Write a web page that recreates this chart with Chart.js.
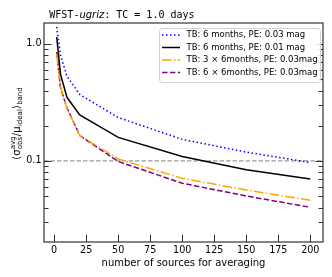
<!DOCTYPE html>
<html><head><meta charset="utf-8">
<script src="https://cdn.jsdelivr.net/npm/chart.js@4/dist/chart.umd.min.js"></script>
<style>html,body{margin:0;padding:0;background:#fff;}#wrap{width:332px;height:277px;}</style>
</head><body><div id="wrap"><canvas id="c" width="332" height="277"></canvas></div>
<script>
// ---- data ----
const nSources = [2, 5, 10, 20, 50, 100, 150, 200];
const tb6_pe003   = [1.40, 0.80, 0.53, 0.37, 0.235, 0.153, 0.119, 0.097];
const tb6_pe001   = [1.15, 0.55, 0.35, 0.247, 0.159, 0.109, 0.084, 0.070];
const tb3x6_pe003 = [0.82, 0.43, 0.28, 0.165, 0.104, 0.071, 0.0565, 0.0461];
const tb6x6_pe003 = [0.85, 0.42, 0.285, 0.165, 0.099, 0.0645, 0.0502, 0.0402];
const seriesLabels = [
  'TB: 6 months, PE: 0.03 mag',
  'TB: 6 months, PE: 0.01 mag',
  'TB: 3 × 6months, PE: 0.03mag',
  'TB: 6 × 6months, PE: 0.03mag'
];
const xTicks = [0, 25, 50, 75, 100, 125, 150, 175, 200];
const yMajorTicks = [0.1, 1.0];
const yMinorTicks = [0.03, 0.04, 0.05, 0.06, 0.07, 0.08, 0.09, 0.2, 0.3, 0.4, 0.5, 0.6, 0.7, 0.8, 0.9];
const refLevel = 0.1;
const titleParts = ['WFST-', 'ugriz', ': TC = 1.0 days'];
const xTitle = 'number of sources for averaging';

const toPts = arr => nSources.map((x, i) => ({x: x, y: arr[i]}));
const styles = [
  {color: '#0000ff', dash: [1.5, 2.5]},
  {color: '#000000', dash: []},
  {color: '#ffa500', dash: [9.6, 2.4, 1.5, 2.4]},
  {color: '#800080', dash: [5.5, 2.4]}
];
const series = [tb6_pe003, tb6_pe001, tb3x6_pe003, tb6x6_pe003];

Chart.defaults.color = '#000';
Chart.defaults.font.family = 'DejaVu Sans';

const SANS = 'DejaVu Sans';
const decor = {
  id: 'decor',
  beforeDatasetsDraw(chart) {
    const {ctx, chartArea: a, scales: {y}} = chart;
    const py = y.getPixelForValue(refLevel);
    ctx.save();
    ctx.strokeStyle = '#9a9a9a'; ctx.lineWidth = 1.3; ctx.setLineDash([4.5, 2]);
    ctx.beginPath(); ctx.moveTo(a.left, py); ctx.lineTo(a.right, py); ctx.stroke();
    ctx.restore();
  },
  afterDraw(chart) {
    const {ctx, chartArea: a, scales: {x, y}} = chart;
    ctx.save();
    // frame
    ctx.strokeStyle = '#333'; ctx.lineWidth = 1.2; ctx.setLineDash([]);
    ctx.strokeRect(a.left, a.top, a.right - a.left, a.bottom - a.top);
    // ticks
    ctx.lineWidth = 1;
    ctx.beginPath();
    xTicks.forEach(v => { const px = Math.round(x.getPixelForValue(v)) + 0.5; ctx.moveTo(px, a.bottom); ctx.lineTo(px, a.bottom - 7.5); });
    yMajorTicks.forEach(v => { const py = Math.round(y.getPixelForValue(v)) + 0.5;
      ctx.moveTo(a.left, py); ctx.lineTo(a.left + 7.5, py); ctx.moveTo(a.right, py); ctx.lineTo(a.right - 7.5, py); });
    yMinorTicks.forEach(v => { const py = Math.round(y.getPixelForValue(v)) + 0.5;
      ctx.moveTo(a.left, py); ctx.lineTo(a.left + 4.5, py); ctx.moveTo(a.right, py); ctx.lineTo(a.right - 4.5, py); });
    ctx.stroke();

    // legend
    const lx = 159, ly = 28, lw = 161, lh = 54, r = 3;
    ctx.beginPath();
    ctx.roundRect(lx + 0.5, ly + 0.5, lw, lh, r);
    ctx.fillStyle = 'rgba(255,255,255,0.85)'; ctx.fill();
    ctx.strokeStyle = '#d0d0d0'; ctx.lineWidth = 1; ctx.stroke();
    ctx.font = '8.5px "' + SANS + '"';
    ctx.textBaseline = 'middle'; ctx.textAlign = 'left';
    chart.data.datasets.forEach((ds, i) => {
      const cy = 35 + i * 12.5;
      ctx.strokeStyle = ds.borderColor; ctx.lineWidth = 1.5; ctx.setLineDash(ds.borderDash || []);
      ctx.beginPath(); ctx.moveTo(162, cy); ctx.lineTo(180, cy); ctx.stroke();
      ctx.setLineDash([]);
      ctx.fillStyle = '#000'; ctx.fillText(ds.label, 186.5, cy);
    });

    // title
    ctx.textBaseline = 'alphabetic'; ctx.fillStyle = '#000';
    let tx = 49.3; const ty = 17.5;
    ctx.font = '10px "DejaVu Sans Mono"'; ctx.fillText(titleParts[0], tx, ty); tx += ctx.measureText(titleParts[0]).width;
    ctx.font = 'italic 10px "' + SANS + '"'; ctx.fillText(titleParts[1], tx, ty); tx += ctx.measureText(titleParts[1]).width;
    ctx.font = '10px "DejaVu Sans Mono"'; ctx.fillText(titleParts[2], tx, ty);

    // x title
    ctx.font = '10px "' + SANS + '"'; ctx.textAlign = 'center';
    ctx.textBaseline = 'middle';
    ctx.fillText(xTitle, (a.left + a.right) / 2, 263);

    // y title (math-like)
    const big = '10px "' + SANS + '"', small = '7px "' + SANS + '"';
    const pieces = [
      {t: '⟨', f: big, dy: 0},
      {t: 'σ', f: big, dy: 0},
      {stack: true, sup: 'avg', sub: 'obs', f: small},
      {t: '/', f: big, dy: 0},
      {t: 'μ', f: big, dy: 0},
      {t: 'ideal', f: small, dy: 2.8},
      {t: '⟩', f: big, dy: 0},
      {t: 'band', f: small, dy: 2.8}
    ];
    let total = 0;
    pieces.forEach(p => { ctx.font = p.f; p.w = p.stack ? Math.max(ctx.measureText(p.sup).width, ctx.measureText(p.sub).width) : ctx.measureText(p.t).width; total += p.w + 0.2; });
    ctx.save();
    ctx.translate(19.5, 123.5); ctx.rotate(-Math.PI / 2);
    ctx.textAlign = 'left'; ctx.textBaseline = 'alphabetic';
    let px = -total / 2;
    pieces.forEach(p => {
      ctx.font = p.f;
      if (p.stack) { ctx.fillText(p.sup, px, -4.5); ctx.fillText(p.sub, px, 2.8); }
      else ctx.fillText(p.t, px, p.dy);
      px += p.w + 0.2;
    });
    ctx.restore();
    ctx.restore();
  }
};

new Chart(document.getElementById('c'), {
  type: 'line',
  data: {
    datasets: series.map((s, i) => ({
      label: seriesLabels[i], data: toPts(s),
      borderColor: styles[i].color, borderDash: styles[i].dash,
      borderWidth: 1.5, pointRadius: 0, tension: 0, fill: false
    }))
  },
  options: {
    responsive: false, animation: false, devicePixelRatio: 1,
    layout: {padding: {top: 23, right: 9, left: 0, bottom: 0}},
    plugins: {legend: {display: false}, tooltip: {enabled: false}, title: {display: false}},
    scales: {
      x: {
        type: 'linear', min: -7.9, max: 209.9,
        afterBuildTicks: s => { s.ticks = xTicks.map(v => ({value: v})); },
        afterFit: s => { s.height = 35; },
        grid: {display: false, drawTicks: false, tickLength: 0},
        border: {display: false},
        ticks: {autoSkip: false, maxRotation: 0, padding: 3, font: {size: 9.6}, color: '#000'}
      },
      y: {
        type: 'logarithmic', min: 0.0203, max: 1.51,
        afterBuildTicks: s => { s.ticks = yMinorTicks.concat(yMajorTicks).sort((a, b) => a - b).map(v => ({value: v})); },
        afterFit: s => { s.width = 44; },
        grid: {display: false, drawTicks: false, tickLength: 0},
        border: {display: false},
        ticks: {autoSkip: false, padding: 2.5, font: {size: 9.6}, color: '#000',
          callback: v => (Math.abs(v - 1) < 1e-9 ? '1.0' : (Math.abs(v - 0.1) < 1e-9 ? '0.1' : ''))}
      }
    }
  },
  plugins: [decor]
});
</script></body></html>
